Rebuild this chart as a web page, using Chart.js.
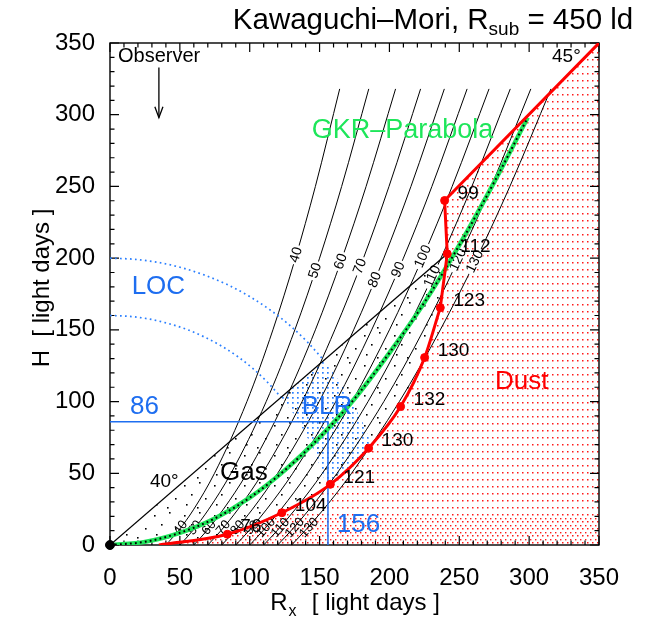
<!DOCTYPE html>
<html><head><meta charset="utf-8">
<script src="https://cdn.jsdelivr.net/npm/chart.js@4"></script>
<style>html,body{margin:0;padding:0;background:#fff;}canvas{display:block;}</style>
</head><body>
<canvas id="c" width="651" height="623"></canvas>
<script>
// ---------------- data ----------------
const delays   = [40, 50, 60, 70, 80, 90, 100, 110, 120, 130];          // iso-delay curves [light days]
const contourH = [0, 10, 25, 50, 100, 150, 200, 250, 318];
const contour40  = [40, 49.0, 60.0, 74.8, 98.0, 116.6, 132.7, 147.0, 164.4];
const contour50  = [50, 59.2, 70.7, 86.6, 111.8, 132.3, 150.0, 165.8, 185.2];
const contour60  = [60, 69.3, 81.2, 98.0, 124.9, 147.0, 166.1, 183.3, 204.4];
const contour70  = [70, 79.4, 91.7, 109.1, 137.5, 160.9, 181.4, 199.7, 222.3];
const contour80  = [80, 89.4, 102.0, 120.0, 149.7, 174.4, 196.0, 215.4, 239.3];
const contour90  = [90, 99.5, 112.2, 130.8, 161.6, 187.3, 210.0, 230.4, 255.6];
const contour100 = [100, 109.5, 122.5, 141.4, 173.2, 200.0, 223.6, 244.9, 271.3];
const contour110 = [110, 119.6, 132.7, 152.0, 184.7, 212.4, 236.9, 259.0, 286.5];
const contour120 = [120, 129.6, 142.8, 162.5, 196.0, 224.5, 249.8, 272.8, 301.2];
const contour130 = [130, 139.6, 153.0, 172.9, 207.1, 236.4, 262.5, 286.2, 315.6];
const contours = [contour40, contour50, contour60, contour70, contour80, contour90, contour100, contour110, contour120, contour130];

// dust sublimation boundary (red) with measured delays
const dustR = [35, 84, 123, 157.7, 185.1, 208, 225.2, 236.4, 241.4, 239.5];
const dustH = [0, 7.5, 22.5, 42.3, 67.5, 96.5, 130.7, 165.5, 203, 240.2];
const dustDelay = ['', '76', '104', '121', '130', '132', '130', '123', '112', '99'];
const edge45R = [239.5, 350];
const edge45H = [240.2, 350];
const dustBaseH = 22;   // denser dust dots below this height

// GKR parabola (green)
const gkrR = [0, 25, 50, 75, 100, 125, 150, 175, 200, 225, 250, 275, 299];
const gkrH = [0, 2.2, 8.5, 18.5, 33, 52, 75, 102, 134, 169, 209, 253, 298];

// 40 degree cone edge (black)
const cone40R = [0, 241.4];
const cone40H = [0, 203];

// LOC circles (blue dotted), r = 200 and r = 160
const locOuterR = [0, 17.4, 34.7, 51.8, 68.4, 84.5, 100, 114.7, 128.6, 141.4, 153.2];
const locOuterH = [200, 199.2, 197, 193.2, 187.9, 181.3, 173.2, 163.8, 153.2, 141.4, 128.6];
const locInnerR = [0, 13.9, 27.8, 41.4, 54.7, 67.6, 80, 91.8, 102.8, 113.1, 122.6];
const locInnerH = [160, 159.4, 157.6, 154.5, 150.4, 145, 138.6, 131.1, 122.6, 113.1, 102.8];

// BLR region outline and centroid
const blrAreaR = [122.6, 153.2, 163.8, 173.2, 181.3, 187.4, 185.1, 157.7, 155, 150.4, 145, 138.6, 131.1];
const blrAreaH = [102.8, 128.6, 114.7, 100, 84.5, 69.7, 67.5, 42.3, 40.7, 54.7, 67.6, 80, 91.8];
const blrR = 156, blrH = 86;

// observer arrow
const arrowR = [35, 35];
const arrowH = [333, 298];
const arrowHeadR = [32.1, 35, 37.9];
const arrowHeadH = [305.6, 297.9, 305.6];

// ---------------- helpers ----------------
const FONT = '"Liberation Sans", Arial, Helvetica, sans-serif';
const pts = (R, H) => R.map((r, i) => ({x: r, y: H[i]}));
const canvas = document.getElementById('c');
const mainCtx = canvas.getContext('2d');
function dotPattern(w, h, color, dots, s) {
  const c = document.createElement('canvas'); c.width = w; c.height = h;
  const g = c.getContext('2d'); g.fillStyle = color;
  dots.forEach(d => g.fillRect(d[0], d[1], s, s));
  return mainCtx.createPattern(c, 'repeat');
}
const redDots = dotPattern(5, 7, '#ff1a1a', [[2, 3]], 1.5);
const redDotsExtra = dotPattern(5, 7, '#ff1a1a', [[0, 0]], 1.4);
const blueDots = dotPattern(5, 5, '#2a7fff', [[2, 2]], 1.7);
const blackDots = dotPattern(30, 30, '#000', [[4, 5], [19, 2], [11, 14], [25, 18], [6, 24], [17, 27]], 1.6);

// region polygons (data coordinates)
const gasPoly = {R: [0].concat(dustR.slice(0, 9)), H: [0].concat(dustH.slice(0, 9)), fill: blackDots};
const dustPoly = {R: dustR.concat([350, 350]), H: dustH.concat([350, 0]), fill: redDots};
const blrPoly = {R: blrAreaR, H: blrAreaH, fill: blueDots};
const regions = [gasPoly, dustPoly, blrPoly];

const upperLabelR = [133.3, 147, 165.3, 179.1, 189.7, 206.5, 224.1, 230.8, 249.2, 261.3];
const upperLabelH = [202.3, 191.2, 197.6, 194.2, 184.9, 191.9, 201.1, 187.2, 198.8, 197.6];
const lowerLabelR = [50.6, 60.8, 71.0, 81.2, 91.4, 101.6, 111.8, 122.0, 132.3, 142.5];
const lowerLabelH = 12;

// ---------------- datasets ----------------
const datasets = [];
contours.forEach((R, k) => datasets.push({
  label: 'delay ' + delays[k], data: pts(R, contourH), showLine: true, pointRadius: 0,
  borderColor: '#000', borderWidth: 1, cubicInterpolationMode: 'monotone', order: 10
}));
datasets.push({label: 'LOC 200', data: pts(locOuterR, locOuterH), showLine: true, pointRadius: 0,
  borderColor: '#2a7fff', borderWidth: 1.7, borderDash: [1.7, 3.3], cubicInterpolationMode: 'monotone', order: 8});
datasets.push({label: 'LOC 160', data: pts(locInnerR, locInnerH), showLine: true, pointRadius: 0,
  borderColor: '#2a7fff', borderWidth: 1.7, borderDash: [1.7, 3.3], cubicInterpolationMode: 'monotone', order: 8});
datasets.push({label: '40 deg', data: pts(cone40R, cone40H), showLine: true, pointRadius: 0,
  borderColor: '#000', borderWidth: 1.3, order: 7});
datasets.push({label: 'BLR centroid', data: [{x: 0, y: blrH}, {x: blrR, y: blrH}, {x: blrR, y: 0}], showLine: true, pointRadius: 0,
  borderColor: '#1e6ef0', borderWidth: 1.5, order: 6});
datasets.push({label: 'Observer', data: pts(arrowR, arrowH), showLine: true, pointRadius: 0,
  borderColor: '#000', borderWidth: 1.3, order: 6});
datasets.push({label: 'Observer head', data: pts(arrowHeadR, arrowHeadH), showLine: true, pointRadius: 0,
  borderColor: '#000', borderWidth: 1.3, order: 6});
datasets.push({label: 'GKR', data: pts(gkrR, gkrH), showLine: true, pointRadius: 0,
  borderColor: '#1ee65a', borderWidth: 4.5, cubicInterpolationMode: 'monotone', order: 4});
datasets.push({label: 'GKR dots', data: pts(gkrR, gkrH), showLine: true, pointRadius: 0,
  borderColor: '#000', borderWidth: 2, borderDash: [1.8, 3.2], cubicInterpolationMode: 'monotone', order: 3.5});
datasets.push({label: 'Dust', data: pts(dustR.slice(0, 8), dustH.slice(0, 8)), showLine: true, pointRadius: 0,
  borderColor: '#ff0000', borderWidth: 3, cubicInterpolationMode: 'monotone', order: 3});
datasets.push({label: 'Dust top', data: pts(dustR.slice(7), dustH.slice(7)).concat(pts(edge45R.slice(1), edge45H.slice(1))),
  showLine: true, pointRadius: 0, borderColor: '#ff0000', borderWidth: 3, order: 3});
datasets.push({label: 'Dust points', data: pts(dustR.slice(1), dustH.slice(1)), showLine: false, pointRadius: 4,
  pointBackgroundColor: '#ff0000', pointBorderColor: '#ff0000', order: 2});
datasets.push({label: 'Origin', data: [{x: 0, y: 0}], showLine: false, pointRadius: 4.5, clip: false,
  pointBackgroundColor: '#000', pointBorderColor: '#000', order: 1});

// ---------------- plugins ----------------
const px = (chart, R) => chart.scales.x.getPixelForValue(R);
const py = (chart, H) => chart.scales.y.getPixelForValue(H);

function polyPath(chart, reg) {
  const ctx = chart.ctx;
  ctx.beginPath();
  reg.R.forEach((r, i) => {
    const X = px(chart, r), Y = py(chart, reg.H[i]);
    if (i) ctx.lineTo(X, Y); else ctx.moveTo(X, Y);
  });
  ctx.closePath();
}

const backgroundPlugin = {
  id: 'regionsAndFrame',
  beforeDatasetsDraw(chart) {
    const {ctx, chartArea: a} = chart;
    ctx.save();
    ctx.beginPath(); ctx.rect(a.left, a.top, a.width, a.height); ctx.clip();
    regions.forEach(reg => {
      polyPath(chart, reg);
      ctx.fillStyle = reg.fill;
      ctx.fill();
    });
    // denser dust dots close to the disk plane
    ctx.save();
    polyPath(chart, dustPoly); ctx.clip();
    ctx.fillStyle = redDotsExtra;
    ctx.fillRect(a.left, py(chart, dustBaseH), a.width, a.bottom - py(chart, dustBaseH));
    ctx.restore();
    ctx.restore();
    // frame + inward ticks on all four sides
    ctx.save();
    ctx.strokeStyle = '#000'; ctx.lineWidth = 1.4;
    ctx.strokeRect(a.left, a.top, a.width, a.height);
    ctx.lineWidth = 1.2;
    ctx.beginPath();
    for (let v = 0; v <= 350; v += 10) {
      const L = v % 50 === 0 ? 9 : 4.5;
      const X = px(chart, v), Y = py(chart, v);
      ctx.moveTo(X, a.bottom); ctx.lineTo(X, a.bottom - L);
      ctx.moveTo(X, a.top); ctx.lineTo(X, a.top + L);
      ctx.moveTo(a.left, Y); ctx.lineTo(a.left + L, Y);
      ctx.moveTo(a.right, Y); ctx.lineTo(a.right - L, Y);
    }
    ctx.stroke();
    ctx.restore();
  }
};

function contourLabel(chart, k, R, H, size, clear) {
  const ctx = chart.ctx, tau = delays[k];
  const X = px(chart, R), Y = py(chart, H);
  const dR = 2, dH = dR * R / tau;
  const ang = Math.atan2(py(chart, H + dH) - Y, px(chart, R + dR) - X);
  const text = String(tau);
  ctx.save();
  ctx.translate(X, Y); ctx.rotate(ang);
  ctx.font = size + 'px ' + FONT;
  const w = ctx.measureText(text).width;
  if (clear) { ctx.fillStyle = '#fff'; ctx.fillRect(-w / 2 - 2, -size * 0.3, w + 4, size * 0.6); }
  ctx.fillStyle = '#000'; ctx.textAlign = 'center'; ctx.textBaseline = 'middle';
  ctx.fillText(text, 0, 0);
  ctx.restore();
}

const contourLabelPlugin = {
  id: 'contourLabels',
  afterDatasetDraw(chart, args) {
    if (args.index !== 0) return;
    delays.forEach((t, k) => {
      contourLabel(chart, k, upperLabelR[k], upperLabelH[k], 14, true);
      contourLabel(chart, k, lowerLabelR[k], lowerLabelH, 13, false);
    });
  }
};

const inPlotTexts = [
  {t: 'Observer', R: 5.7, H: 340.9, size: 20, color: '#000'},
  {t: '45°', R: 316.4, H: 340.2, size: 19, color: '#000'},
  {t: '40°', R: 28.6, H: 44.1, size: 19, color: '#000'},
  {t: 'GKR–Parabola', R: 144.4, H: 289.3, size: 27, color: '#1ee65a'},
  {t: 'LOC', R: 15.5, H: 180.1, size: 26, color: '#1e6ef0'},
  {t: '86', R: 14.3, H: 96.4, size: 26, color: '#1e6ef0'},
  {t: 'BLR', R: 137.2, H: 96.4, size: 26, color: '#1e6ef0'},
  {t: '156', R: 162.3, H: 13.9, size: 26, color: '#1e6ef0'},
  {t: 'Gas', R: 78.7, H: 50, size: 26, color: '#000'},
  {t: 'Dust', R: 275.6, H: 113.9, size: 26, color: '#ff0000'}
];

const textPlugin = {
  id: 'texts',
  afterDatasetsDraw(chart) {
    const ctx = chart.ctx;
    ctx.save();
    ctx.textAlign = 'left'; ctx.textBaseline = 'middle';
    inPlotTexts.forEach(o => {
      ctx.font = o.size + 'px ' + FONT; ctx.fillStyle = o.color;
      ctx.fillText(o.t, px(chart, o.R), py(chart, o.H));
    });
    ctx.font = '19px ' + FONT; ctx.fillStyle = '#000';
    dustDelay.forEach((d, i) => {
      if (!d) return;
      ctx.fillText(d, px(chart, dustR[i]) + 13, py(chart, dustH[i]) - 7);
    });
    ctx.restore();
  },
  afterDraw(chart) {
    const ctx = chart.ctx;
    ctx.save();
    ctx.fillStyle = '#000'; ctx.textBaseline = 'alphabetic'; ctx.textAlign = 'left';
    // title
    const big = '29.5px ' + FONT, small = '19px ' + FONT;
    const p1 = 'Kawaguchi–Mori, R', p2 = 'sub', p3 = ' = 450 ld';
    ctx.font = big; const w1 = ctx.measureText(p1).width, w3 = ctx.measureText(p3).width;
    ctx.font = small; const w2 = ctx.measureText(p2).width;
    let tx = 433 - (w1 + w2 + w3) / 2;
    ctx.font = big; ctx.fillText(p1, tx, 29); tx += w1;
    ctx.font = small; ctx.fillText(p2, tx, 35); tx += w2;
    ctx.font = big; ctx.fillText(p3, tx, 29);
    // x title
    const a = chart.chartArea;
    const xb = '24px ' + FONT, xs = '16px ' + FONT;
    const q1 = 'R', q2 = 'x', q3 = '  [ light days ]';
    ctx.font = xb; const v1 = ctx.measureText(q1).width, v3 = ctx.measureText(q3).width;
    ctx.font = xs; const v2 = ctx.measureText(q2).width + 2;
    let xx = (a.left + a.right) / 2 - (v1 + v2 + v3) / 2;
    ctx.font = xb; ctx.fillText(q1, xx, 610); xx += v1 + 1;
    ctx.font = xs; ctx.fillText(q2, xx, 616); xx += v2;
    ctx.font = xb; ctx.fillText(q3, xx, 610);
    // y title
    ctx.translate(42, 288);
    ctx.rotate(-Math.PI / 2);
    ctx.textAlign = 'center'; ctx.textBaseline = 'middle';
    ctx.font = xb; ctx.fillText('H  [ light days ]', 0, 0);
    ctx.restore();
  }
};

// ---------------- chart ----------------
const tickFont = {family: FONT, size: 24};
new Chart(canvas, {
  type: 'scatter',
  data: {datasets},
  options: {
    responsive: false, animation: false, devicePixelRatio: 1, events: [],
    layout: {padding: {left: 0, right: 52, top: 43, bottom: 0}},
    plugins: {legend: {display: false}, tooltip: {enabled: false}, title: {display: false}},
    scales: {
      x: {type: 'linear', position: 'bottom', min: 0, max: 350,
        grid: {display: false}, border: {display: false},
        ticks: {stepSize: 50, autoSkip: false, maxRotation: 0, color: '#000', font: tickFont, padding: 11},
        afterFit(s) { s.height = 78; }},
      y: {type: 'linear', position: 'left', min: 0, max: 350,
        grid: {display: false}, border: {display: false},
        ticks: {stepSize: 50, autoSkip: false, color: '#000', font: tickFont, padding: 7},
        afterFit(s) { s.width = 110; }}
    }
  },
  plugins: [backgroundPlugin, contourLabelPlugin, textPlugin]
});
</script>
</body></html>
